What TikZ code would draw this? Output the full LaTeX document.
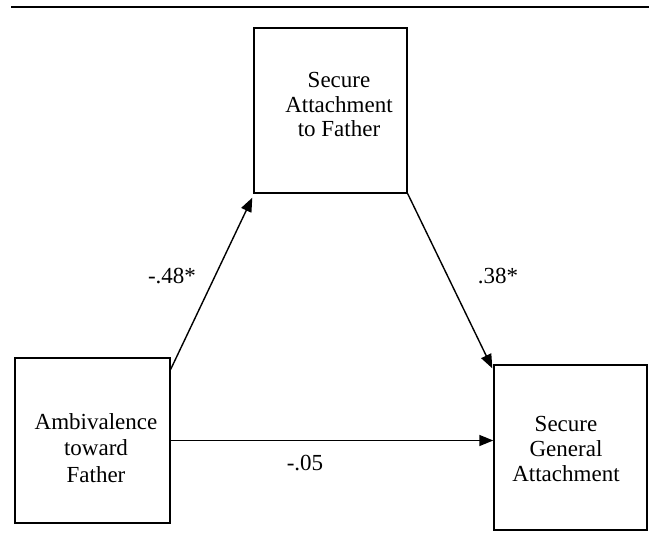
\documentclass[tikz,border=0pt]{standalone}
\usepackage{fontspec}
\setmainfont{Liberation Serif}
\usetikzlibrary{arrows.meta,calc}
\begin{document}
\begin{tikzpicture}[x=1pt,y=-1pt,
  box/.style={draw,line width=1.4pt,minimum width=153pt,minimum height=165pt,inner sep=0pt},
  lbl/.style={font=\fontsize{23}{25}\selectfont,align=center,inner sep=0pt},
  conn/.style={line width=1.4pt,-{Triangle[length=14pt,width=11pt]}}]
\useasboundingbox (0,0) rectangle (649,546);
\coordinate (ruleL) at (11,7);
\coordinate (ruleR) at (649,7);
\draw[line width=2.6pt] (ruleL) -- (ruleR);
\node[box] (top) at (330.5,110.5) {};
\node[box,minimum width=155pt] (left) at (92.5,440.5) {};
\node[box] (right) at (570.5,447.5) {};
\node[lbl,font=\fontsize{23}{24.5}\selectfont] (ttop) at (339,104.7) {Secure\\Attachment\\to Father};
\node[lbl,font=\fontsize{23}{26.5}\selectfont] (tleft) at (96,447.7) {Ambivalence\\toward\\Father};
\node[lbl] (tright) at (566,449.2) {Secure\\General\\Attachment};
\draw[conn] ($(left.north east)+(0,12)$) -- ($(top.south west)+(-1,4)$);
\draw[conn] (top.south east) -- ($(right.north west)+(-1,4)$);
\draw[conn] (left.east) -- (left.east -| right.west);
\node[lbl,anchor=base] (l1) at (172,283) {-.48*};
\node[lbl,anchor=base] (l2) at (498,283) {.38*};
\node[lbl,anchor=base] (l3) at (305,470) {-.05};
\end{tikzpicture}
\end{document}
